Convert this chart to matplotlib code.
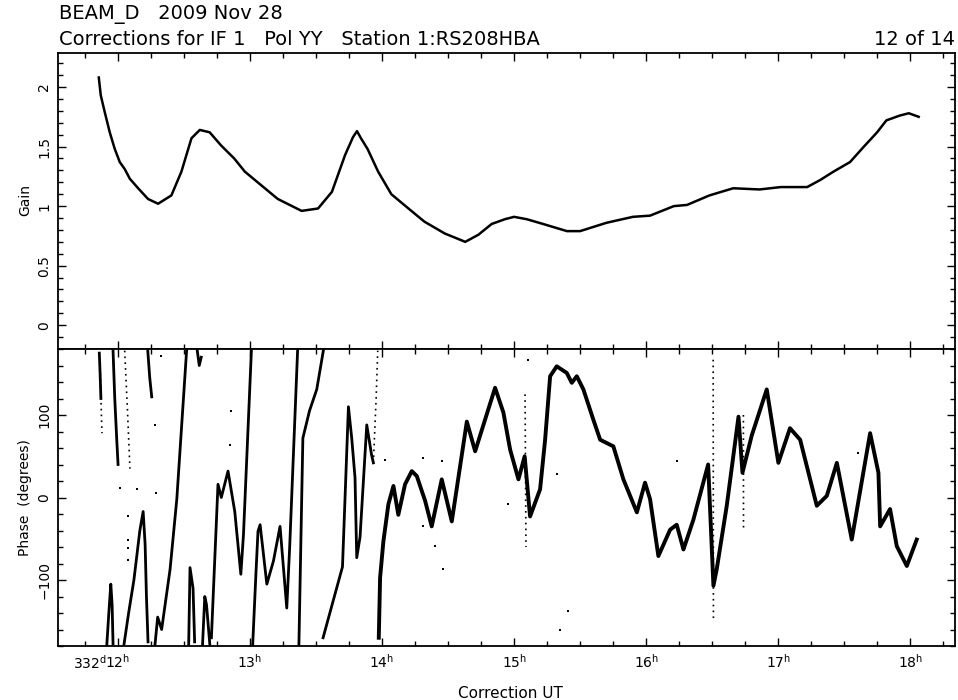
import numpy as np
import matplotlib
matplotlib.use("Agg")
import matplotlib.pyplot as plt
from matplotlib.ticker import MultipleLocator, FuncFormatter

nan = np.nan

# Gain (amplitude correction) vs UT hours
GAIN_T = [11.854, 11.869, 11.899, 11.937, 11.975, 12.013, 12.051, 12.089, 12.152,
          12.227, 12.303, 12.404, 12.48, 12.556, 12.619, 12.694, 12.78, 12.88,
          12.96, 13.09, 13.21, 13.39, 13.515, 13.62, 13.72, 13.78, 13.81, 13.84,
          13.89, 13.97, 14.07, 14.20, 14.32, 14.475, 14.63, 14.73, 14.83, 14.93,
          15.0, 15.096, 15.22, 15.40, 15.50, 15.70, 15.90, 16.03, 16.21, 16.31,
          16.48, 16.66, 16.86, 17.02, 17.22, 17.32, 17.42, 17.545, 17.65, 17.75,
          17.82, 17.92, 17.99, 18.065]
GAIN = [2.08, 1.93, 1.79, 1.62, 1.48, 1.37, 1.31, 1.23, 1.15,
        1.06, 1.02, 1.09, 1.29, 1.57, 1.64, 1.62, 1.51, 1.40,
        1.29, 1.17, 1.06, 0.96, 0.98, 1.12, 1.43, 1.58, 1.63, 1.57,
        1.48, 1.29, 1.10, 0.98, 0.87, 0.77, 0.70, 0.76, 0.85, 0.89,
        0.91, 0.89, 0.85, 0.79, 0.79, 0.86, 0.91, 0.92, 1.00, 1.01,
        1.09, 1.15, 1.14, 1.16, 1.16, 1.22, 1.29, 1.37, 1.50, 1.62,
        1.72, 1.76, 1.78, 1.75]

# Phase: early, rapidly wrapping traces (NaN separates traces)
PHASE_WRAP_T = [11.858, 11.864, 11.870, nan,
                11.962, 11.975, 11.99, 12.0, nan,
                11.915, 11.93, 11.945, 11.955, 11.962, nan,
                12.045, 12.08, 12.12, 12.165, 12.19, 12.205, 12.215, 12.227, nan,
                12.225, 12.24, 12.255, nan,
                12.28, 12.30, 12.33, 12.394, 12.445, 12.52, nan,
                12.535, 12.545, 12.568, 12.58, nan,
                12.60, 12.615, 12.63, nan,
                12.64, 12.657, 12.67, 12.695, nan,
                12.707, 12.757, 12.782, 12.833, 12.884, 12.93, 12.95, 13.01, nan,
                13.02, 13.045, 13.06, 13.076, 13.127, 13.177, 13.227, 13.278, 13.30, 13.36, nan,
                13.37, 13.39, 13.40, 13.45, 13.505, 13.555, nan,
                13.553, 13.70, 13.745, 13.77, 13.795, 13.808, 13.833, 13.884, 13.92, 13.934]
PHASE_WRAP_DEG = [175, 150, 120, nan,
                  178, 120, 70, 40, nan,
                  -178, -140, -105, -130, -178, nan,
                  -178, -140, -100, -40, -17, -57, -120, -175, nan,
                  178, 145, 122, nan,
                  -178, -145, -160, -87, -2, 180, nan,
                  -178, -85, -110, -175, nan,
                  178, 160, 170, nan,
                  -178, -120, -130, -178, nan,
                  -170, 16, 0, 32, -17, -93, -45, 178, nan,
                  -178, -90, -41, -33, -105, -77, -35, -134, -60, 178, nan,
                  -178, -10, 72, 105, 131, 178, nan,
                  -170, -84, 110, 72, 24, -73, -48, 88, 52, 42]

# Phase: main continuous track from 14h onward
PHASE_MAIN_T = [13.975, 13.985, 14.01, 14.048, 14.086, 14.123, 14.174, 14.225,
                14.263, 14.326, 14.376, 14.452, 14.528, 14.578, 14.642, 14.705,
                14.856, 14.919, 14.97, 15.033, 15.08, 15.121, 15.197, 15.235,
                15.273, 15.323, 15.399, 15.437, 15.475, 15.525, 15.601, 15.652,
                15.752, 15.828, 15.93, 15.992, 16.03, 16.093, 16.182, 16.232,
                16.283, 16.358, 16.47, 16.51, 16.535, 16.611, 16.70, 16.73,
                16.80, 16.914, 17.002, 17.09, 17.167, 17.293, 17.369, 17.445,
                17.558, 17.697, 17.76, 17.773, 17.848, 17.899, 17.975, 18.05]
PHASE_MAIN_DEG = [-170, -97, -53, -8, 14, -21, 16, 32,
                  26, -4, -35, 22, -29, 24, 92, 56,
                  133, 103, 58, 22, 50, -23, 10, 70,
                  147, 159, 151, 139, 147, 131, 94, 70,
                  62, 22, -18, 18, -2, -71, -39, -33,
                  -63, -27, 40, -107, -87, -10, 98, 30,
                  75, 131, 42, 84, 70, -10, 2, 42,
                  -51, 78, 30, -35, -14, -59, -83, -51]

# Phase: sparse dotted wrap crossings
PHASE_SPARSE_T = [11.866, 11.872, 11.878, nan,
                  12.05, 12.07, 12.09, nan,
                  13.934, 13.955, 13.967, nan,
                  15.083, 15.09, nan,
                  16.508, 16.51, nan,
                  16.737, 16.738]
PHASE_SPARSE_DEG = [150, 110, 78, nan,
                    178, 110, 35, nan,
                    42, 120, 178, nan,
                    125, -60, nan,
                    167, -150, nan,
                    100, -40]

# Phase: isolated outlier points
PHASE_OUT_T = [16.232, 15.323, 15.411, 15.348, 14.957, 17.608, 15.108, 14.02,
               14.313, 14.452, 14.464, 14.4, 14.313, 12.278, 12.29, 12.858,
               12.846, 12.328, 12.013, 12.146, 12.076, 12.076, 12.076, 12.076]
PHASE_OUT_DEG = [44, 28, -138, -160, -8, 54, 167, 46,
                 48, 44, -87, -59, -35, 88, 6, 105,
                 64, 171, 12, 10, -23, -52, -61, -76]

W, H = 958, 700
plt.rcParams["font.family"] = "DejaVu Sans"


def style_axis(ax):
    for sp in ax.spines.values():
        sp.set_linewidth(1.3)
    ax.tick_params(which="both", direction="in", top=True, right=True,
                   width=1.0, labelsize=10, pad=5)
    ax.tick_params(which="major", length=6)
    ax.tick_params(which="minor", length=3.5)
    ax.xaxis.set_major_locator(MultipleLocator(1))
    ax.xaxis.set_minor_locator(MultipleLocator(0.25))


fig = plt.figure(figsize=(W / 100, H / 100), dpi=100)
left, right = 58 / W, 955 / W
ax_g = fig.add_axes([left, 1 - 349 / H, right - left, (349 - 53) / H])
ax_p = fig.add_axes([left, 1 - 646 / H, right - left, (646 - 349) / H], sharex=ax_g)

# Gain panel
ax_g.plot(GAIN_T, GAIN, color="black", lw=1.8)
ax_g.set_ylim(-0.2, 2.286)
ax_g.yaxis.set_major_locator(MultipleLocator(0.5))
ax_g.yaxis.set_minor_locator(MultipleLocator(0.1))
ax_g.yaxis.set_major_formatter(FuncFormatter(lambda v, p: f"{v:g}"))
style_axis(ax_g)
ax_g.tick_params(labelbottom=False)

# Phase panel
ax_p.plot(PHASE_WRAP_T, PHASE_WRAP_DEG, color="black", lw=2.0)
ax_p.plot(PHASE_MAIN_T, PHASE_MAIN_DEG, color="black", lw=2.8)
ax_p.plot(PHASE_SPARSE_T, PHASE_SPARSE_DEG, color="black", lw=1.2,
          linestyle=(0, (1, 2.5)))
ax_p.plot(PHASE_OUT_T, PHASE_OUT_DEG, "s", color="black", ms=1.6, mew=0)
ax_p.set_ylim(-180, 180)
ax_p.yaxis.set_major_locator(MultipleLocator(100))
ax_p.yaxis.set_minor_locator(MultipleLocator(20))
style_axis(ax_p)
ax_p.set_xlim(11.545, 18.34)
ax_p.xaxis.set_major_formatter(
    FuncFormatter(lambda h, p: r"$\mathregular{%d^h}$" % round(h)))
ax_p.annotate(r"$\mathregular{332^d}$", xy=(12, 0),
              xycoords=("data", "axes fraction"), xytext=(-8, -5.5),
              textcoords="offset points", ha="right", va="top", fontsize=10)

for ax in (ax_g, ax_p):
    for lab in ax.get_yticklabels():
        lab.set_rotation(90)
        lab.set_va("center")

# Titles and axis labels
fig.text(59 / W, 1 - 19 / H, "BEAM_D   2009 Nov 28", fontsize=14,
         va="baseline", ha="left")
fig.text(59 / W, 1 - 45 / H, "Corrections for IF 1   Pol YY   Station 1:RS208HBA",
         fontsize=14, va="baseline", ha="left")
fig.text(955 / W, 1 - 45 / H, "12 of 14", fontsize=14, va="baseline", ha="right")
fig.text(25 / W, 1 - 200 / H, "Gain", rotation=90, fontsize=10,
         ha="center", va="center")
fig.text(25 / W, 1 - 498 / H, "Phase  (degrees)", rotation=90, fontsize=10,
         ha="center", va="center")
fig.text(510 / W, 1 - 686 / H, "Correction UT", fontsize=11,
         ha="center", va="top")

fig.savefig("out.png", dpi=100, facecolor="white")
